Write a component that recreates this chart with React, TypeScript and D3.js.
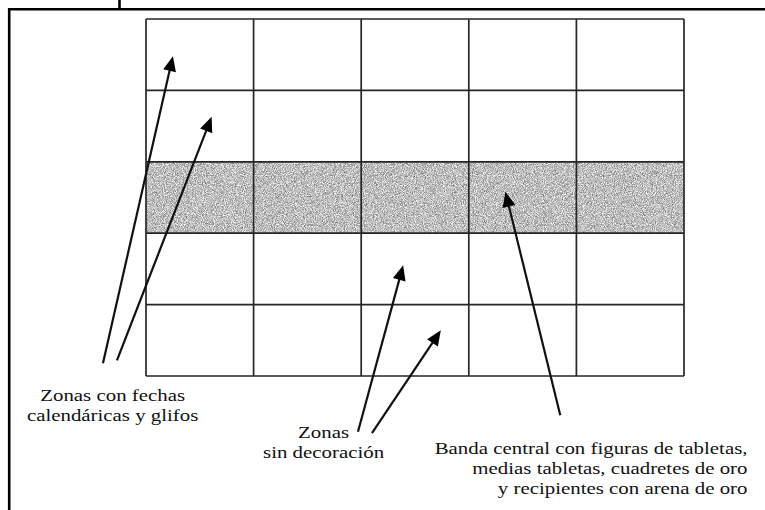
import React, { useRef, useEffect } from "react";
import * as d3 from "d3";

// grid: 5 columns x 5 rows, middle row is the shaded band
const columns = ["c1", "c2", "c3", "c4", "c5"];
const rows = ["glifos", "glifos", "banda", "sin", "sin"];

// arrows in grid units (x: columns, y: rows), from label to zone
const arrows = [
  { x1: -0.4, y1: 4.82, x2: 0.25, y2: 0.52 },
  { x1: -0.27, y1: 4.78, x2: 0.61, y2: 1.37 },
  { x1: 1.97, y1: 5.78, x2: 2.39, y2: 3.45 },
  { x1: 2.1, y1: 5.8, x2: 2.74, y2: 4.36 },
  { x1: 3.85, y1: 5.55, x2: 3.34, y2: 2.42 },
];

const labelFechas = ["Zonas con fechas", "calendáricas y glifos"];
const labelSin = ["Zonas", "sin decoración"];
const labelBanda = [
  "Banda central con figuras de tabletas,",
  "medias tabletas, cuadretes de oro",
  "y recipientes con arena de oro",
];

const W = 765;
const H = 510;

const App: React.FC = () => {
  const ref = useRef<SVGSVGElement>(null);

  useEffect(() => {
    if (!ref.current) return;
    const svg = d3.select(ref.current);
    svg.selectAll("*").remove();

    const x = d3.scaleLinear().domain([0, columns.length]).range([146, 684]);
    const y = d3.scaleLinear().domain([0, rows.length]).range([19, 376]);

    // noise texture for the band
    const defs = svg.append("defs");
    const f = defs
      .append("filter")
      .attr("id", "grain")
      .attr("x", 0)
      .attr("y", 0)
      .attr("width", 1)
      .attr("height", 1)
      .attr("color-interpolation-filters", "sRGB");
    f.append("feTurbulence")
      .attr("type", "fractalNoise")
      .attr("baseFrequency", 1.1)
      .attr("numOctaves", 2)
      .attr("seed", 3)
      .attr("result", "noise");
    f.append("feColorMatrix")
      .attr("in", "noise")
      .attr("type", "matrix")
      .attr(
        "values",
        "0.95 0 0 0 0.27  0.95 0 0 0 0.27  0.95 0 0 0 0.27  0 0 0 0 1"
      )
      .attr("result", "gray");
    f.append("feComposite")
      .attr("in", "gray")
      .attr("in2", "SourceGraphic")
      .attr("operator", "in");

    svg.append("rect").attr("width", W).attr("height", H).attr("fill", "#fff");

    // outer frame
    const frame = svg.append("g").attr("stroke", "#000").attr("stroke-width", 2.6);
    frame.append("line").attr("x1", 8).attr("x2", W).attr("y1", 9.3).attr("y2", 9.3);
    frame.append("line").attr("x1", 9.2).attr("x2", 9.2).attr("y1", 8).attr("y2", H);
    frame.append("line").attr("x1", 119.5).attr("x2", 119.5).attr("y1", 0).attr("y2", 9);

    // shaded band
    rows.forEach((r, i) => {
      if (r !== "banda") return;
      svg
        .append("rect")
        .attr("x", x(0))
        .attr("y", y(i))
        .attr("width", x(columns.length) - x(0))
        .attr("height", y(i + 1) - y(i))
        .attr("fill", "#999")
        .attr("filter", "url(#grain)");
    });

    // grid lines
    const grid = svg
      .append("g")
      .attr("stroke", "#262626")
      .attr("stroke-width", 1.7)
      .attr("fill", "none");
    d3.range(columns.length + 1).forEach((c) => {
      grid
        .append("line")
        .attr("x1", x(c))
        .attr("x2", x(c))
        .attr("y1", y(0))
        .attr("y2", y(rows.length));
    });
    d3.range(rows.length + 1).forEach((r) => {
      grid
        .append("line")
        .attr("x1", x(0))
        .attr("x2", x(columns.length))
        .attr("y1", y(r))
        .attr("y2", y(r));
    });

    // arrows
    const headLen = 15;
    const headHalf = 6.5;
    const ag = svg.append("g");
    arrows.forEach((a) => {
      const sx = x(a.x1);
      const sy = y(a.y1);
      const tx = x(a.x2);
      const ty = y(a.y2);
      const len = Math.hypot(tx - sx, ty - sy);
      const ux = (tx - sx) / len;
      const uy = (ty - sy) / len;
      const bx = tx - ux * headLen;
      const by = ty - uy * headLen;
      ag.append("line")
        .attr("x1", sx)
        .attr("y1", sy)
        .attr("x2", bx + ux * 2)
        .attr("y2", by + uy * 2)
        .attr("stroke", "#111")
        .attr("stroke-width", 2.2);
      ag.append("path")
        .attr(
          "d",
          `M${tx},${ty}L${bx - uy * headHalf},${by + ux * headHalf}L${
            bx + uy * headHalf
          },${by - ux * headHalf}Z`
        )
        .attr("fill", "#000");
    });

    // labels (scan is stretched horizontally, so the text is too)
    const stretch = 1.28;
    const drawLabel = (
      lines: string[],
      gx: number,
      gy: number,
      anchor: string
    ) => {
      const t = svg
        .append("g")
        .attr("transform", `translate(${x(gx)},${y(gy)}) scale(${stretch},1)`);
      lines.forEach((s, i) => {
        t.append("text")
          .attr("y", i * 20)
          .attr("text-anchor", anchor)
          .style("font-family", "Liberation Serif, DejaVu Serif, serif")
          .style("font-size", "16.3px")
          .attr("fill", "#111")
          .text(s);
      });
    };
    drawLabel(labelFechas, -0.31, 5.35, "middle");
    drawLabel(labelSin, 1.65, 5.87, "middle");
    drawLabel(labelBanda, 5.59, 6.09, "end");
  }, []);

  return (
    <svg
      ref={ref}
      width={W}
      height={H}
      style={{ position: "absolute", left: 0, top: 0 }}
    ></svg>
  );
};

export default App;
